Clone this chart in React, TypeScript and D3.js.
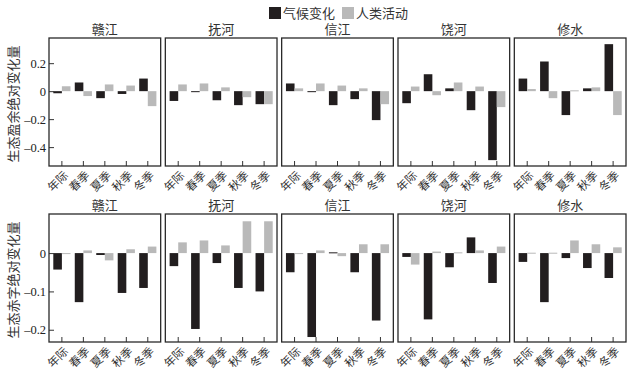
import * as d3 from 'd3'
import {useEffect, useRef} from 'react'

const rivers = ['赣江', '抚河', '信江', '饶河', '修水']
const seasons = ['年际', '春季', '夏季', '秋季', '冬季']
const seriesNames = ['气候变化', '人类活动']
const seriesColors = ['#221e1f', '#b9b9b9']

// 生态盈余 (top row), one array per river, values by season
const surplusClimate = [
  [-0.015, 0.062, -0.05, -0.02, 0.09],
  [-0.07, -0.003, -0.065, -0.1, -0.093],
  [0.055, -0.003, -0.1, -0.057, -0.207],
  [-0.086, 0.121, 0.02, -0.136, -0.493],
  [0.09, 0.212, -0.171, 0.02, 0.336],
]
const surplusHuman = [
  [0.035, -0.035, 0.048, 0.04, -0.107],
  [0.048, 0.055, 0.027, -0.043, -0.093],
  [0.02, 0.055, 0.04, 0.02, -0.093],
  [0.033, -0.029, 0.062, 0.033, -0.114],
  [0.015, -0.05, 0.006, 0.027, -0.171],
]

// 生态赤字 (bottom row)
const deficitClimate = [
  [-0.043, -0.128, -0.005, -0.104, -0.091],
  [-0.034, -0.198, -0.026, -0.091, -0.1],
  [-0.05, -0.219, 0.002, -0.05, -0.176],
  [-0.01, -0.173, -0.037, 0.041, -0.078],
  [-0.023, -0.128, -0.013, -0.039, -0.065],
]
const deficitHuman = [
  [-0.001, 0.007, -0.019, 0.01, 0.017],
  [0.028, 0.033, 0.02, 0.083, 0.083],
  [-0.001, 0.007, -0.008, 0.023, 0.023],
  [-0.03, 0.004, 0.002, 0.007, 0.017],
  [0.001, 0.001, 0.033, 0.023, 0.015],
]

const surplusTicks = [0.2, 0, -0.2, -0.4]
const surplusTickLabels = ['0.2', '0', '–0.2', '–0.4']
const deficitTicks = [0, -0.1, -0.2]
const deficitTickLabels = ['0', '–0.1', '–0.2']

const font = 'Liberation Serif, DejaVu Serif, Noto Sans CJK SC, serif'

export default function App() {
  const ref = useRef<SVGSVGElement>(null)

  useEffect(() => {
    const svg = d3.select(ref.current)
    svg.selectAll('*').remove()

    const panelX = d3.scaleBand().domain(rivers).range([49, 626]).paddingInner(0.04)
    const pw = panelX.bandwidth()
    const x = d3.scaleBand().domain(seasons).range([0, pw]).paddingInner(0.2).paddingOuter(0.2)
    const xs = d3.scaleBand().domain(seriesNames).range([0, x.bandwidth()])

    const rows = [
      {
        top: 38, bottom: 166, domain: [-0.535, 0.38], climate: surplusClimate, human: surplusHuman,
        ticks: surplusTicks, labels: surplusTickLabels, title: '生态盈余绝对变化量',
      },
      {
        top: 214, bottom: 342, domain: [-0.232, 0.102], climate: deficitClimate, human: deficitHuman,
        ticks: deficitTicks, labels: deficitTickLabels, title: '生态赤字绝对变化量',
      },
    ]

    rows.forEach(row => {
      const y = d3.scaleLinear().domain(row.domain).range([row.bottom, row.top])

      svg
        .append('text')
        .attr('transform', `translate(18,${(row.top + row.bottom) / 2 + 2}) rotate(-90)`)
        .attr('text-anchor', 'middle')
        .attr('font-size', 13)
        .attr('fill', '#333')
        .text(row.title)

      rivers.forEach((river, ri) => {
        const g = svg.append('g').attr('transform', `translate(${panelX(river)},0)`)

        g.append('text')
          .attr('x', pw / 2)
          .attr('y', row.top - 4)
          .attr('text-anchor', 'middle')
          .attr('font-size', 13)
          .attr('fill', '#333')
          .text(river)

        const series = [row.climate[ri], row.human[ri]]
        series.forEach((vals, si) => {
          g.selectAll(null)
            .data(vals)
            .enter()
            .append('rect')
            .attr('x', (_, i) => (x(seasons[i]) || 0) + (xs(seriesNames[si]) || 0))
            .attr('width', xs.bandwidth())
            .attr('y', d => y(Math.max(0, d)))
            .attr('height', d => Math.max(1, Math.abs(y(d) - y(0))))
            .attr('fill', seriesColors[si])
        })

        // ticks point inward from the panel's bottom edge
        const xAxis = d3.axisBottom(x).tickSize(-5).tickSizeOuter(0)
        const xa = g
          .append('g')
          .attr('transform', `translate(0,${row.bottom})`)
          .call(xAxis)
          .attr('font-family', font)
          .attr('font-size', 11.5)
        xa.select('.domain').remove()
        xa.selectAll('line').attr('stroke', '#333')
        xa.selectAll('text')
          .attr('fill', '#333')
          .attr('text-anchor', 'end')
          .attr('y', 0)
          .attr('dy', 0)
          .attr('transform', 'translate(7,10) rotate(-45)')

        if (ri === 0) {
          const yAxis = d3
            .axisLeft(y)
            .tickValues(row.ticks)
            .tickSize(-5)
            .tickFormat((_, i) => row.labels[i])
          const ya = g.append('g').call(yAxis).attr('font-family', font).attr('font-size', 12.5)
          ya.select('.domain').remove()
          ya.selectAll('line').attr('stroke', '#333')
          ya.selectAll('text').attr('fill', '#222').attr('x', -3)
        }

        g.append('rect')
          .attr('x', 0)
          .attr('y', row.top)
          .attr('width', pw)
          .attr('height', row.bottom - row.top)
          .attr('fill', 'none')
          .attr('stroke', '#2a2a2a')
          .attr('stroke-width', 1.3)
      })
    })

    const legend = svg.append('g')
    const legendX = [269, 342]
    seriesNames.forEach((name, i) => {
      legend
        .append('rect')
        .attr('x', legendX[i])
        .attr('y', 7)
        .attr('width', 12)
        .attr('height', 12)
        .attr('fill', seriesColors[i])
      legend
        .append('text')
        .attr('x', legendX[i] + 14)
        .attr('y', 18)
        .attr('font-size', 13)
        .attr('fill', '#333')
        .text(name)
    })
  }, [])

  return (
    <svg
      ref={ref}
      width={634}
      height={375}
      style={{position: 'absolute', left: 0, top: 0, fontFamily: font, background: '#fff'}}
    />
  )
}
